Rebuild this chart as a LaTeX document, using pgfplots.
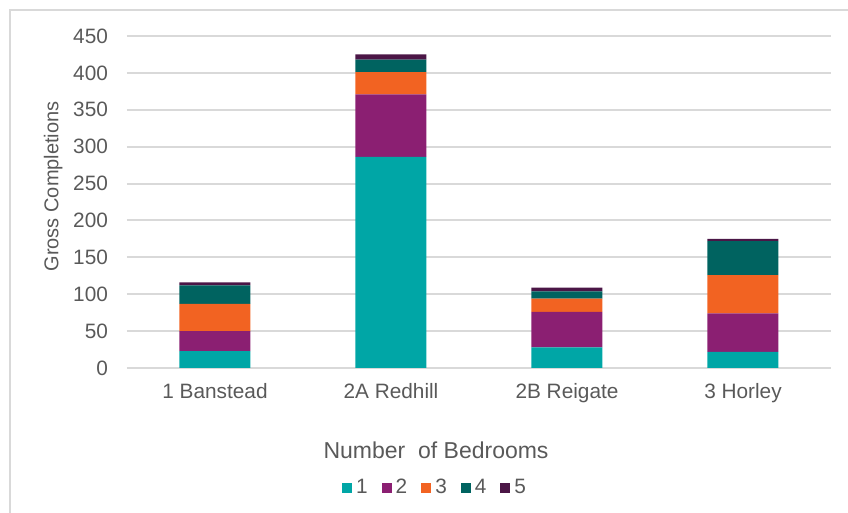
\documentclass[border=0pt]{standalone}
\usepackage{fontspec}
\setmainfont{Liberation Sans}
\usepackage{pgfplots}
\pgfplotsset{compat=1.18}

\definecolor{txtgray}{RGB}{89,89,89}
\definecolor{gridgray}{RGB}{217,217,217}
\definecolor{framegray}{RGB}{217,217,217}
\definecolor{bedA}{RGB}{0,166,166}
\definecolor{bedB}{RGB}{139,31,114}
\definecolor{bedC}{RGB}{242,99,34}
\definecolor{bedD}{RGB}{0,99,96}
\definecolor{bedE}{RGB}{75,22,70}

\begin{document}
\begin{tikzpicture}
% page = 848 x 513 px, 1px = 0.5pt
\useasboundingbox (0pt,0pt) rectangle (424pt,256.5pt);
\draw[framegray, line width=1pt] (5pt,0pt) -- (5pt,251.5pt) -- (424pt,251.5pt);

\begin{axis}[
  at={(63.5pt,72.5pt)}, anchor=south west,
  scale only axis, width=352pt, height=166pt,
  ybar stacked, bar width=35.5pt,
  xmin=-0.5, xmax=3.5, ymin=0, ymax=450,
  xtick={0,1,2,3},
  xticklabels={1 Banstead, 2A Redhill, 2B Reigate, 3 Horley},
  ytick={0,50,...,450},
  ymajorgrids, grid style={gridgray, line width=1pt},
  axis line style={draw=none},
  major tick length=0pt,
  tick label style={font=\fontsize{10.4}{12}\selectfont, text=txtgray},
  /pgf/number format/assume math mode=true,
  yticklabel style={xshift=-6pt},
  xticklabel style={yshift=-4pt},
  xlabel={Number\ \ of Bedrooms},
  xlabel style={at={(axis description cs:0.439,-0.247)}, anchor=center,
    font=\fontsize{11.5}{13}\selectfont, text=txtgray},
  ylabel={Gross Completions},
  ylabel style={at={(axis description cs:-0.105,0.547)}, anchor=center, rotate=0,
    font=\fontsize{10}{12}\selectfont, text=txtgray},
  legend columns=-1,
  legend style={draw=none, at={(axis description cs:0.439,-0.361)}, anchor=center,
    font=\fontsize{10.4}{12}\selectfont, text=txtgray,
    /tikz/every even column/.append style={column sep=5pt}},
  legend image code/.code={\fill[#1] (0pt,-2.6pt) rectangle (5pt,2.4pt);},
]
\addplot[fill=bedA, draw=none] coordinates {(0,23) (1,286) (2,28) (3,22)};
\addplot[fill=bedB, draw=none] coordinates {(0,27) (1,85) (2,48) (3,52)};
\addplot[fill=bedC, draw=none] coordinates {(0,37) (1,30) (2,18) (3,52)};
\addplot[fill=bedD, draw=none] coordinates {(0,25) (1,17) (2,10) (3,46)};
\addplot[fill=bedE, draw=none] coordinates {(0,4) (1,7) (2,5) (3,3)};
\legend{1,2,3,4,5}
\end{axis}
\end{tikzpicture}
\end{document}
